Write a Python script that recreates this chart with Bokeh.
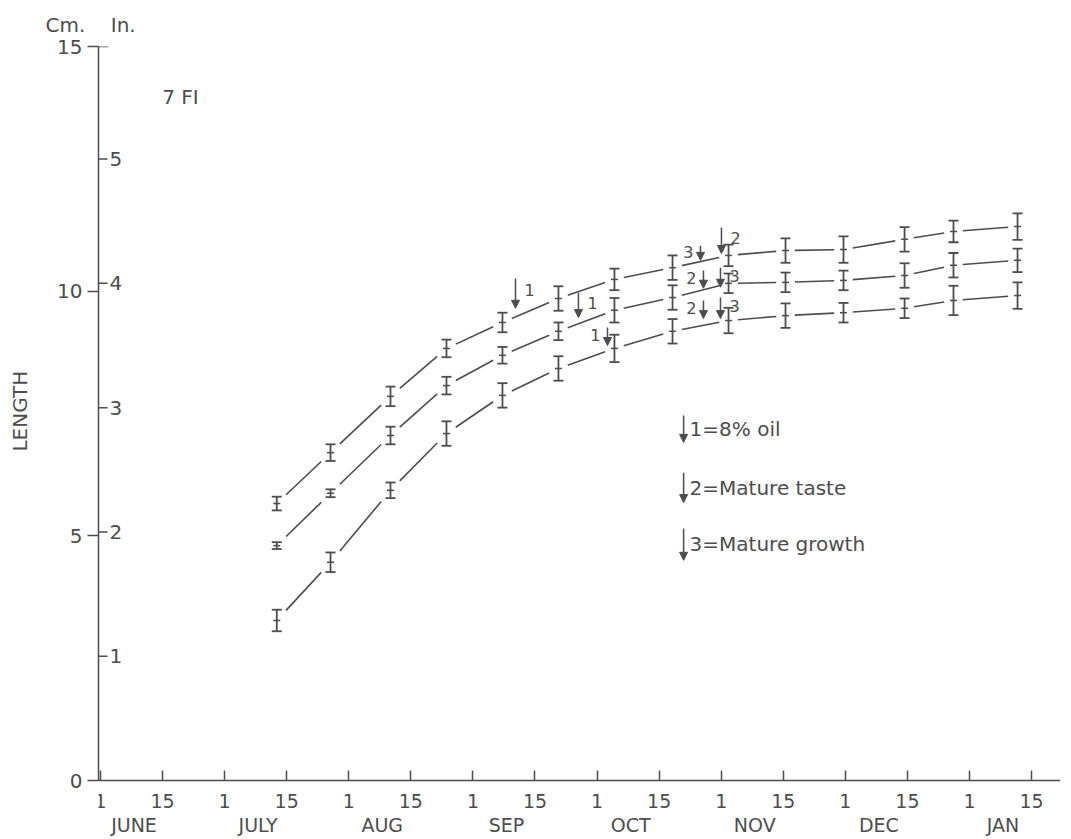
from bokeh.plotting import figure
from bokeh.models import (FixedTicker, Range1d, Label, Arrow, NormalHead,
                          ColumnDataSource, LinearAxis)
from bokeh.embed import file_html
from bokeh.resources import INLINE
from bokeh.core.properties import value

# ---------------- data ----------------
# x: months after June 1 (ticks at the 1st and 15th of each month)
months = ["JUNE", "JULY", "AUG", "SEP", "OCT", "NOV", "DEC", "JAN"]
day_labels = ["1", "15"]
dates = [1.42, 1.853, 2.336, 2.787, 3.238, 3.689, 4.14, 4.608, 5.059, 5.518,
         5.985, 6.477, 6.871, 7.387]

top_cm = [5.66, 6.70, 7.85, 8.83, 9.36, 9.85, 10.24, 10.48, 10.73, 10.83,
          10.85, 11.06, 11.22, 11.32]
top_err = [0.14, 0.17, 0.20, 0.18, 0.20, 0.25, 0.22, 0.25, 0.22, 0.25,
           0.27, 0.25, 0.22, 0.27]
mid_cm = [4.80, 5.87, 7.05, 8.07, 8.69, 9.18, 9.61, 9.87, 10.16, 10.18,
          10.22, 10.32, 10.53, 10.63]
mid_err = [0.07, 0.08, 0.18, 0.18, 0.17, 0.18, 0.25, 0.25, 0.20, 0.20,
           0.20, 0.25, 0.25, 0.24]
bot_cm = [3.27, 4.46, 5.93, 7.09, 7.87, 8.42, 8.83, 9.18, 9.40, 9.50,
          9.56, 9.65, 9.81, 9.91]
bot_err = [0.22, 0.20, 0.16, 0.25, 0.25, 0.25, 0.28, 0.25, 0.26, 0.25,
           0.20, 0.20, 0.30, 0.27]

cm_ticks = [0, 5, 10, 15]
inch_ticks = [1, 2, 3, 4, 5]
CM_PER_INCH = 2.54

# event arrows on the curves
ev_x = [3.343, 3.850, 4.084, 4.833, 5.002, 4.857, 4.994, 4.857, 4.994]
ev_top = [10.26, 9.97, 9.26, 10.93, 11.30, 10.42, 10.48, 9.81, 9.87]
ev_tip = [9.65, 9.46, 8.89, 10.63, 10.77, 10.06, 10.08, 9.44, 9.44]
ev_label = ["1", "1", "1", "3", "2", "2", "3", "2", "3"]
ev_side = ["right", "right", "left", "left", "right", "left", "right", "left", "right"]

legend_text = ["1=8% oil", "2=Mature taste", "3=Mature growth"]
legend_x = 4.697
legend_top = [7.46, 6.29, 5.15]
legend_tip = [6.91, 5.68, 4.50]

# ---------------- style ----------------
INK = "#4d4d4d"
FONT = "DejaVu Sans"

W, H = 1071, 839
TOP, LEFT, RIGHT = 46, 98, 11          # frame placement (px)
ZERO_PX = 780                           # where 0 cm sits on the page
Y_MAX = 15
px_per_cm = (ZERO_PX - TOP) / Y_MAX
y_min = -(H - ZERO_PX) / px_per_cm      # frame runs down to the canvas bottom

x0, x1 = -0.016, 7.733
p = figure(width=W, height=H, output_backend="svg", toolbar_location=None,
           x_range=Range1d(x0, x1), y_range=Range1d(y_min, Y_MAX),
           min_border_left=LEFT, min_border_right=RIGHT, min_border_top=TOP,
           min_border_bottom=0,
           title="Cm.\u00a0\u00a0\u00a0\u00a0In.")
p.background_fill_color = "white"
p.border_fill_color = "white"
p.outline_line_color = None
p.grid.visible = False

p.title.align = "left"
p.title.offset = -53
p.title.standoff = 20
p.title.text_font = FONT
p.title.text_font_size = "20px"
p.title.text_font_style = "normal"
p.title.text_color = INK

# x axis (day ticks), pinned at 0 cm
xt = [i * 0.5 for i in range(2 * len(months))]
xa = p.xaxis[0]
xa.fixed_location = 0
xa.ticker = FixedTicker(ticks=xt)
xa.major_label_overrides = {t: day_labels[i % 2] for i, t in enumerate(xt)}
xa.major_tick_in = 10
xa.major_tick_out = 0
xa.minor_tick_line_color = None
xa.axis_line_color = INK
xa.axis_line_width = 1.5
xa.major_tick_line_color = INK
xa.major_tick_line_width = 1.5
xa.major_label_text_font = FONT
xa.major_label_text_font_size = "19px"
xa.major_label_text_color = INK
xa.major_label_standoff = 13

# month names axis, also pinned at 0 cm
mpos = [i + 0.27 for i in range(len(months))]
ma = LinearAxis(ticker=FixedTicker(ticks=mpos), fixed_location=0,
                major_label_overrides={t: months[i] for i, t in enumerate(mpos)})
ma.axis_line_color = None
ma.major_tick_line_color = None
ma.minor_tick_line_color = None
ma.major_tick_in = 0
ma.major_tick_out = 0
ma.major_label_standoff = 33
ma.major_label_text_font = FONT
ma.major_label_text_font_size = "19px"
ma.major_label_text_color = INK
p.add_layout(ma, "below")

# y axis (cm)
ya = p.yaxis[0]
ya.bounds = (0, Y_MAX)
ya.ticker = FixedTicker(ticks=cm_ticks)
ya.major_tick_out = 11
ya.major_tick_in = 0
ya.minor_tick_line_color = None
ya.axis_line_color = INK
ya.axis_line_width = 1.5
ya.major_tick_line_color = INK
ya.major_tick_line_width = 1.5
ya.major_label_text_font = FONT
ya.major_label_text_font_size = "20px"
ya.major_label_text_color = INK
ya.major_label_standoff = 5
# leading no-break spaces lift the word to the middle of the 0-15 span
ya.axis_label = "\u00a0" * 10 + "LENGTH"
ya.axis_label_text_font = FONT
ya.axis_label_text_font_style = "normal"
ya.axis_label_text_font_size = "20px"
ya.axis_label_text_color = INK
ya.axis_label_standoff = 22

# inch scale drawn inside, right of the axis line
inch_y = [v * CM_PER_INCH for v in inch_ticks]
p.ray(x=[x0] * len(inch_y), y=inch_y, length=9, length_units="screen",
      angle=0, line_color=INK, line_width=1.5)
p.ray(x=[x0], y=[cm_ticks[-1]], length=10, length_units="screen",
      angle=0, line_color=INK, line_width=1.5)
p.text(x=[x0] * len(inch_y), y=inch_y, text=[str(v) for v in inch_ticks],
       x_offset=11, text_baseline="middle", text_align="left",
       text_font=value(FONT), text_font_size="20px", text_color=INK)

# panel tag
p.add_layout(Label(x=x0, y=15, x_offset=82, y_offset=-50, text="7 FI",
                   text_align="center", text_baseline="middle",
                   text_font=FONT, text_font_size="20px", text_color=INK))

# series: broken connecting lines + error bars
GAP = 0.075
for ys, es in ((top_cm, top_err), (mid_cm, mid_err), (bot_cm, bot_err)):
    sx0, sy0, sx1, sy1 = [], [], [], []
    for i in range(len(dates) - 1):
        xa_, xb_ = dates[i], dates[i + 1]
        ya_, yb_ = ys[i], ys[i + 1]
        f = GAP / (xb_ - xa_)
        sx0.append(xa_ + GAP)
        sy0.append(ya_ + f * (yb_ - ya_))
        sx1.append(xb_ - GAP)
        sy1.append(yb_ - f * (yb_ - ya_))
    p.segment(x0=sx0, y0=sy0, x1=sx1, y1=sy1, line_color=INK, line_width=1.6)
    lo = [y - e for y, e in zip(ys, es)]
    hi = [y + e for y, e in zip(ys, es)]
    p.segment(x0=dates, y0=lo, x1=dates, y1=hi, line_color=INK, line_width=1.8)
    p.scatter(x=dates, y=lo, marker="dash", size=10, line_color=INK, line_width=1.8)
    p.scatter(x=dates, y=hi, marker="dash", size=10, line_color=INK, line_width=1.8)
    p.scatter(x=dates, y=ys, marker="dash", size=7, line_color=INK, line_width=1.5)

# event arrows
ev_src = ColumnDataSource(dict(x=ev_x, y0=ev_top, y1=ev_tip))
p.add_layout(Arrow(end=NormalHead(size=8, fill_color=INK, line_color=INK),
                   x_start="x", y_start="y0", x_end="x", y_end="y1",
                   source=ev_src, line_color=INK, line_width=1.5))
lab_y = [t + 0.6 * (a - t) for a, t in zip(ev_top, ev_tip)]
for side, off, align in (("right", 9, "left"), ("left", -7, "right")):
    idx = [i for i, s in enumerate(ev_side) if s == side]
    p.text(x=[ev_x[i] for i in idx], y=[lab_y[i] for i in idx],
           text=[ev_label[i] for i in idx], x_offset=off,
           text_align=align, text_baseline="middle",
           text_font=value(FONT), text_font_size="16px", text_color=INK)

# legend (key)
lg_src = ColumnDataSource(dict(x=[legend_x] * 3, y0=legend_top, y1=legend_tip))
p.add_layout(Arrow(end=NormalHead(size=8, fill_color=INK, line_color=INK),
                   x_start="x", y_start="y0", x_end="x", y_end="y1",
                   source=lg_src, line_color=INK, line_width=1.5))
p.text(x=[legend_x] * 3, y=[(a + b) / 2 for a, b in zip(legend_top, legend_tip)],
       text=legend_text, x_offset=6, text_align="left", text_baseline="middle",
       text_font=value(FONT), text_font_size="20px", text_color=INK)

open("out.html", "w").write(file_html(p, INLINE))
